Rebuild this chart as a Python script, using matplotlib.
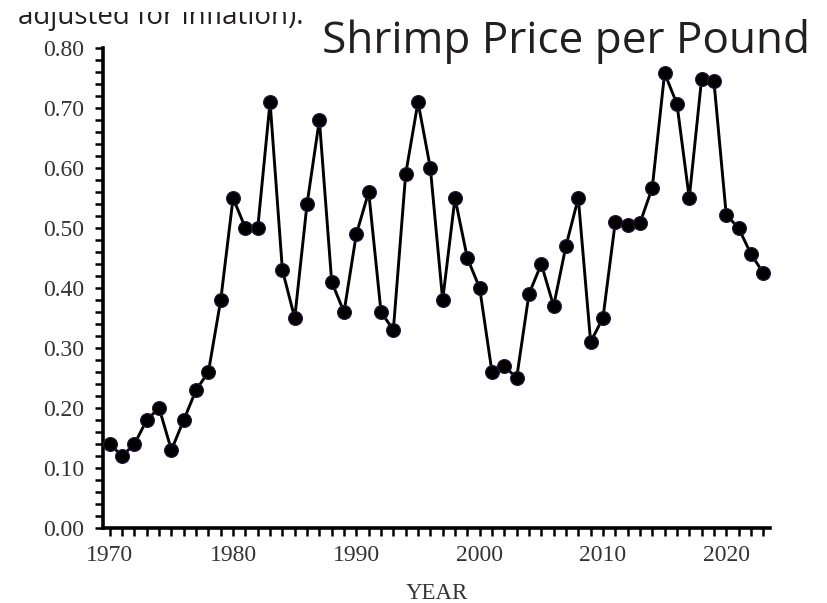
import matplotlib
matplotlib.use("Agg")
import matplotlib.pyplot as plt
from matplotlib.ticker import MultipleLocator, FormatStrFormatter
from matplotlib.patches import Rectangle

years = list(range(1970, 2024))
prices = [0.14, 0.12, 0.14, 0.18, 0.20, 0.13, 0.18, 0.23, 0.26, 0.38,
          0.55, 0.50, 0.50, 0.71, 0.43, 0.35, 0.54, 0.68, 0.41, 0.36,
          0.49, 0.56, 0.36, 0.33, 0.59, 0.71, 0.60, 0.38, 0.55, 0.45,
          0.40, 0.26, 0.27, 0.25, 0.39, 0.44, 0.37, 0.47, 0.55, 0.31,
          0.35, 0.51, 0.505, 0.508, 0.567, 0.758, 0.707, 0.55, 0.748, 0.745,
          0.522, 0.50, 0.457, 0.425]
title = "Shrimp Price per Pound"
top_note = "adjusted for inflation)."
xlabel = "YEAR"

W, H = 827, 603
fig = plt.figure(figsize=(W / 100, H / 100), dpi=100)
ax = fig.add_axes([103 / W, 1 - 528 / H, (770 - 103) / W, (528 - 48) / H])

ax.plot(years, prices, color="black", lw=2.1, marker="o", markersize=10,
        markerfacecolor="black", markeredgecolor="#2a1840", markeredgewidth=0.8,
        clip_on=False, zorder=3)

ax.set_xlim(1969.45, 2023.55)
ax.set_ylim(0, 0.8)
ax.xaxis.set_major_locator(MultipleLocator(10))
ax.xaxis.set_minor_locator(MultipleLocator(1))
ax.yaxis.set_major_locator(MultipleLocator(0.1))
ax.yaxis.set_minor_locator(MultipleLocator(0.02))
ax.yaxis.set_major_formatter(FormatStrFormatter("%.2f"))

for s in ["top", "right"]:
    ax.spines[s].set_visible(False)
for s in ["left", "bottom"]:
    ax.spines[s].set_linewidth(2.6)
    ax.spines[s].set_color("black")
    ax.spines[s].set_capstyle("projecting")

ax.tick_params(which="both", direction="out", length=5.5, width=1.8, color="black")
ax.tick_params(which="major", labelsize=17, labelcolor="#333333")
ax.tick_params(axis="y", which="major", pad=8)
ax.tick_params(axis="x", which="major", pad=7)
for lab in ax.get_xticklabels() + ax.get_yticklabels():
    lab.set_fontfamily("Liberation Serif")

ax.set_xlabel(xlabel, fontsize=16.5, fontfamily="Liberation Serif", color="#333333", labelpad=12)

fig.text(810 / W, 1 - 53 / H, title, ha="right", va="baseline",
         fontsize=31.8, fontfamily="Open Sans", color="#231f20")
fig.text(18 / W, 1 - 24 / H, top_note, ha="left", va="baseline",
         fontsize=20, fontfamily="Open Sans", color="#231f20")
# top of the note is cut off in the reference
fig.patches.append(Rectangle((0, 1 - 11.5 / H), 320 / W, 11.5 / H,
                             transform=fig.transFigure, facecolor="white",
                             edgecolor="none", zorder=10))

fig.savefig("out.png", dpi=100)
